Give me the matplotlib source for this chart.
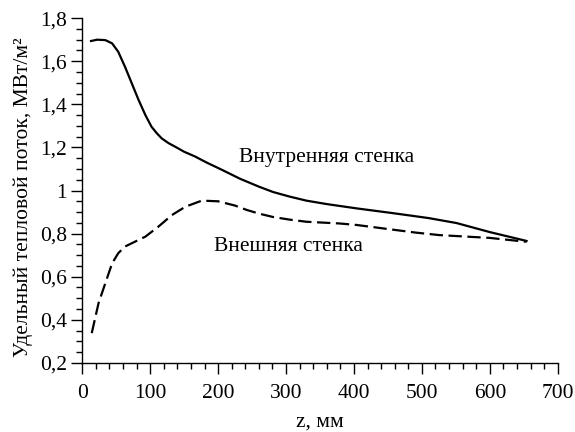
import matplotlib.pyplot as plt
from matplotlib.ticker import MultipleLocator, FuncFormatter

plt.rcParams["font.family"] = ["Liberation Serif", "DejaVu Serif"]

# inner wall (solid)
z_inner = [13, 22, 34, 44, 53, 63, 73, 83, 93, 102, 110, 117, 127, 137, 150, 166, 183,
           205, 232, 260, 281, 305, 330, 360, 404, 450, 478, 510, 551, 600, 654]
q_inner = [1.694, 1.70, 1.698, 1.683, 1.644, 1.574, 1.497, 1.42, 1.35, 1.296, 1.265, 1.242, 1.22, 1.203, 1.18, 1.158, 1.13,
           1.097, 1.055, 1.018, 0.993, 0.972, 0.953, 0.937, 0.917, 0.898, 0.886, 0.872, 0.849, 0.807, 0.766]

# outer wall (dashed)
z_outer = [14, 24, 34, 44, 53, 63, 78, 93, 112, 132, 152, 176, 200, 225, 242, 260, 281,
           305, 330, 379, 404, 453, 490, 526, 600, 654]
q_outer = [0.338, 0.477, 0.57, 0.662, 0.709, 0.74, 0.763, 0.786, 0.832, 0.886, 0.925, 0.953, 0.950, 0.93, 0.91, 0.893, 0.877,
           0.865, 0.855, 0.847, 0.84, 0.82, 0.805, 0.793, 0.78, 0.762]

fig = plt.figure(figsize=(5.75, 4.32), dpi=100)
ax = fig.add_axes([0.143, 0.160, 0.827, 0.798])

ax.plot(z_inner, q_inner, color="black", linewidth=1.6, solid_joinstyle="round")
ax.plot(z_outer, q_outer, color="black", linewidth=1.6, dashes=(6, 2.5), dash_joinstyle="round")

ax.text(360, 1.151, "Внутренняя стенка", ha="center", va="center", fontsize=15.5)
ax.text(303, 0.738, "Внешняя стенка", ha="center", va="center", fontsize=15.5)

ax.set_xlim(0, 700)
ax.set_ylim(0.2, 1.8)
ax.xaxis.set_major_locator(MultipleLocator(100))
ax.xaxis.set_minor_locator(MultipleLocator(20))
ax.yaxis.set_major_locator(MultipleLocator(0.2))
ax.yaxis.set_minor_locator(MultipleLocator(0.05))


def comma(v, pos):
    s = f"{v:.1f}".rstrip("0").rstrip(".")
    return s.replace(".", ",")


ax.yaxis.set_major_formatter(FuncFormatter(comma))

for side in ["top", "right"]:
    ax.spines[side].set_visible(False)
for side in ["left", "bottom"]:
    ax.spines[side].set_linewidth(1.0)

ax.tick_params(which="major", direction="out", length=8, width=1.0, labelsize=15.5)
ax.tick_params(which="minor", direction="out", length=4.5, width=1.0)
ax.tick_params(axis="x", which="major", pad=7)
ax.tick_params(axis="y", which="major", pad=3)

ax.set_xlabel("z, мм", fontsize=15.5, labelpad=7)
ax.set_ylabel("Удельный тепловой поток, МВт/м²", fontsize=15.5)
ax.yaxis.set_label_coords(-0.103, 0.481)

fig.savefig("out.png", dpi=100)
